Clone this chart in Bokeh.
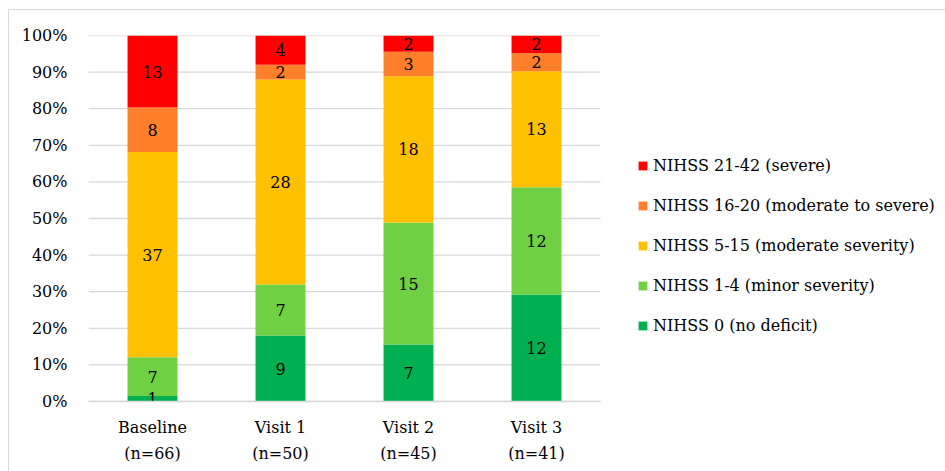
from bokeh.plotting import figure
from bokeh.models import ColumnDataSource, Range1d, FixedTicker, NumeralTickFormatter, Legend, LegendItem
from bokeh.core.properties import value
from bokeh.embed import file_html
from bokeh.resources import INLINE

categories = ["Baseline\n(n=66)", "Visit 1\n(n=50)", "Visit 2\n(n=45)", "Visit 3\n(n=41)"]
no_deficit = [1, 9, 7, 12]
minor = [7, 7, 15, 12]
moderate = [37, 28, 18, 13]
mod_severe = [8, 2, 3, 2]
severe = [13, 4, 2, 2]

series_names = ["NIHSS 0 (no deficit)", "NIHSS 1-4 (minor severity)",
                "NIHSS 5-15 (moderate severity)", "NIHSS 16-20 (moderate to severe)",
                "NIHSS 21-42 (severe)"]
series_vals = [no_deficit, minor, moderate, mod_severe, severe]
colors = ["#00B050", "#70D044", "#FFC000", "#FF7F2A", "#FF0000"]
keys = ["s0", "s1", "s2", "s3", "s4"]
y_ticks = [i / 10 for i in range(11)]

FONT = "DejaVu Serif"

# layout (pixels)
FIG_W, FIG_H = 937, 462
LEFT, TOP, BOTTOM = 79, 25, 71
CAT_PX = 128  # pixel width of one category slot

n = len(categories)
xpos = [i + 0.5 for i in range(n)]
totals = [sum(v[i] for v in series_vals) for i in range(n)]
data = {"x": xpos}
for k, vals in zip(keys, series_vals):
    data[k] = [v / t for v, t in zip(vals, totals)]
source = ColumnDataSource(data)

frame_w = FIG_W - LEFT
x_end = frame_w / CAT_PX

p = figure(x_range=Range1d(0, x_end), y_range=Range1d(0, 1),
           width=FIG_W, height=FIG_H, output_backend="svg", toolbar_location=None,
           min_border_left=LEFT, min_border_top=TOP, min_border_bottom=BOTTOM, min_border_right=0)
p.margin = (9, 0, 0, 8)
p.styles = {"border-left": "1px solid #d9d9d9", "border-top": "1px solid #d9d9d9"}
p.outline_line_color = None
p.background_fill_color = "white"
p.border_fill_color = "white"

# horizontal gridlines only across the category area
p.xgrid.grid_line_color = None
p.ygrid.grid_line_color = None
p.segment(x0=[0] * len(y_ticks), x1=[n] * len(y_ticks), y0=y_ticks, y1=y_ticks,
          line_color="#d9d9d9", line_width=1.3)

renderers = p.vbar_stack(keys, x="x", width=0.39, color=colors, line_color=None, source=source)

# segment labels
lx, ly, lt = [], [], []
for i in range(n):
    cum = 0.0
    for k, vals in zip(keys, series_vals):
        frac = data[k][i]
        lx.append(xpos[i])
        ly.append(cum + frac / 2)
        lt.append(str(vals[i]))
        cum += frac
p.text(x=lx, y=ly, text=lt, text_font=value(FONT), text_font_size="16px",
       text_align="center", text_baseline="middle", text_color="#000000")

p.yaxis.ticker = FixedTicker(ticks=y_ticks)
p.yaxis.formatter = NumeralTickFormatter(format="0%")
p.yaxis.axis_line_color = None
p.yaxis.major_tick_line_color = None
p.yaxis.minor_tick_line_color = None
p.yaxis.major_label_standoff = 15
p.yaxis.major_label_text_font = FONT
p.yaxis.major_label_text_font_size = "16px"
p.yaxis.major_label_text_color = "#000000"

p.xaxis.ticker = FixedTicker(ticks=xpos)
p.xaxis.major_label_overrides = {x: c for x, c in zip(xpos, categories)}
p.xaxis.bounds = (0, n)
p.xaxis.axis_line_color = "#d9d9d9"
p.xaxis.axis_line_width = 1.5
p.xaxis.major_tick_line_color = None
p.xaxis.minor_tick_line_color = None
p.xaxis.major_label_standoff = 10
p.xaxis.major_label_text_font = FONT
p.xaxis.major_label_text_font_size = "16px"
p.xaxis.major_label_text_color = "#000000"
p.xaxis.major_label_text_line_height = 1.4

items = [LegendItem(label=nm, renderers=[r]) for nm, r in zip(series_names, renderers)][::-1]
legend = Legend(items=items, location=(549, 66), orientation="vertical",
                glyph_width=11, glyph_height=11, label_height=20, spacing=20,
                label_standoff=5, padding=0, margin=0, border_line_color=None,
                background_fill_alpha=0, label_text_font=FONT, label_text_font_size="16px",
                label_text_color="#000000")
p.add_layout(legend, "center")

open("out.html", "w").write(file_html(p, INLINE))
